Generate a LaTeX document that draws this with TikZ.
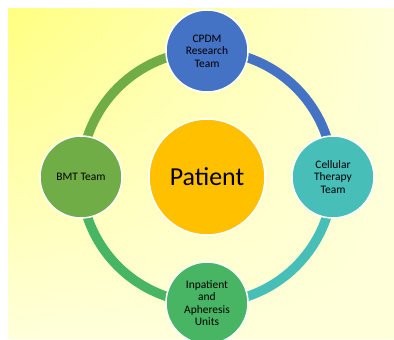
\documentclass[tikz,border=0pt]{standalone}
\usepackage{fontspec}
\setmainfont{Carlito}
\usepackage{tikz}
\usetikzlibrary{positioning, shadings}
\pgfdeclarelayer{bg}
\pgfsetlayers{bg,main}
\definecolor{cpdmblue}{HTML}{4472C4}
\definecolor{celltealc}{HTML}{47BEB8}
\definecolor{inpatgreen}{HTML}{47B563}
\definecolor{bmtgreen}{HTML}{70AD47}
\definecolor{patientgold}{HTML}{FFC000}
\definecolor{bgyellow}{HTML}{FFFF80}
\definecolor{bgcream}{HTML}{FFFFDA}

\begin{document}
\begin{tikzpicture}[x=1bp, y=1bp, node distance = 126bp,
team/.style={circle, draw=white, line width=1.5bp, minimum size=82bp,
  inner sep=0pt, align=center, font=\fontsize{11.5}{12.5}\selectfont},
ring/.style={line width=9.5bp}]

\useasboundingbox (0,0) rectangle (394,340);

\node [circle, draw=white, line width=1.5bp, fill=patientgold, minimum size=116bp,
  font=\fontsize{26}{30}\selectfont] (patient) at (207,163) {Patient};
\node [team, fill=cpdmblue] (cpdm) [above of=patient] {CPDM\\Research\\Team};
\node [team, fill=celltealc] (cell) [right of=patient] {Cellular\\Therapy\\Team};
\node [team, fill=inpatgreen] (inpat) [below of=patient] {Inpatient\\and\\Apheresis\\Units};
\node [team, fill=bmtgreen] (bmt) [left of=patient] {BMT Team};

\begin{pgfonlayer}{bg}
\shade [upper left=bgyellow, upper right=bgcream, lower left=bgcream, lower right=bgcream]
  (8,1) rectangle (394,331);
\path (cpdm.center) edge [ring, cpdmblue, bend left=45] (cell.center);
\path (cell.center) edge [ring, celltealc, bend left=45] (inpat.center);
\path (inpat.center) edge [ring, inpatgreen, bend left=45] (bmt.center);
\path (bmt.center) edge [ring, bmtgreen, bend left=45] (cpdm.center);
\end{pgfonlayer}

\end{tikzpicture}
\end{document}
